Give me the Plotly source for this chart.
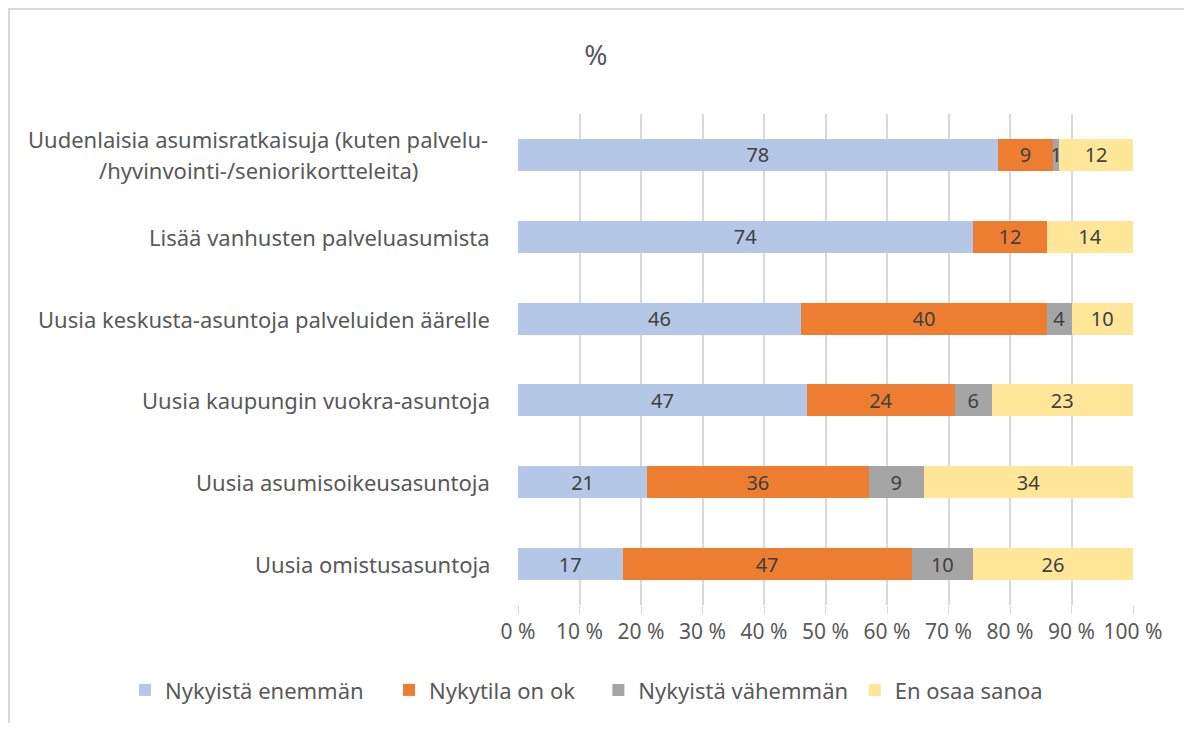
import plotly.graph_objects as go

# kategoriat ylhäältä alas
categories = [
    "Uudenlaisia asumisratkaisuja (kuten palvelu-|/hyvinvointi-/seniorikortteleita)",
    "Lisää vanhusten palveluasumista",
    "Uusia keskusta-asuntoja palveluiden äärelle",
    "Uusia kaupungin vuokra-asuntoja",
    "Uusia asumisoikeusasuntoja",
    "Uusia omistusasuntoja",
]
enemman = [78, 74, 46, 47, 21, 17]
ok = [9, 12, 40, 24, 36, 47]
vahemman = [1, 0, 4, 6, 9, 10]
en_osaa = [12, 14, 10, 23, 34, 26]

series = [
    ("Nykyistä enemmän", enemman, "#b4c7e7"),
    ("Nykytila on ok", ok, "#ed7d31"),
    ("Nykyistä vähemmän", vahemman, "#a5a5a5"),
    ("En osaa sanoa", en_osaa, "#ffe699"),
]
tick_vals = list(range(0, 101, 10))
tick_text = [f"{v} %" for v in tick_vals]

font = "Noto Sans"
W, H = 1176, 715  # body-marginaali 8px
legend_x = [0.0995, 0.324, 0.502, 0.720]

fig = go.Figure()
for i, (name, vals, col) in enumerate(series):
    fig.add_trace(go.Bar(
        y=categories, x=vals, name=name, orientation="h",
        marker=dict(color=col, line=dict(width=0)),
        text=[str(v) if v else "" for v in vals],
        textposition="inside", insidetextanchor="middle", textangle=0,
        textfont=dict(color="#404040", size=20, family=font),
        constraintext="none",
        legend="legend" if i == 0 else f"legend{i + 1}",
    ))

# kategorianimet annotaatioina (keskitetyt rivit)
for c in categories:
    lines = c.split("|")
    if len(lines) == 1:
        fig.add_annotation(x=0, y=c, xref="paper", yref="y", text=c,
                           showarrow=False, xanchor="right", xshift=-26,
                           font=dict(size=22, color="#595959", family=font))
    else:
        fig.add_annotation(x=0, y=c, xref="paper", yref="y", text=lines[0],
                           showarrow=False, xanchor="center", xshift=-260, yshift=16,
                           font=dict(size=22, color="#595959", family=font))
        fig.add_annotation(x=0, y=c, xref="paper", yref="y", text=lines[1],
                           showarrow=False, xanchor="center", xshift=-260, yshift=-15,
                           font=dict(size=22, color="#595959", family=font))

# kaavion reunus
fig.add_shape(type="rect", xref="paper", yref="paper",
              x0=-0.8276, x1=1.3, y0=-0.5, y1=1.2138,
              line=dict(color="#d9d9d9", width=2), layer="below")

leg = {}
for i, lx in enumerate(legend_x):
    key = "legend" if i == 0 else f"legend{i + 1}"
    leg[key] = dict(orientation="h", x=lx, xref="container", xanchor="left",
                    y=0.046, yref="container", yanchor="middle",
                    font=dict(size=22, color="#595959", family=font),
                    itemwidth=30, bgcolor="rgba(0,0,0,0)")

fig.update_layout(
    barmode="stack", bargap=0.61,
    width=W, height=H,
    margin=dict(l=510, r=51, t=106, b=118),
    paper_bgcolor="white", plot_bgcolor="white",
    title=dict(text="%", x=0.5, xref="container", y=0.934, yanchor="middle",
               font=dict(size=28, color="#595959", family=font)),
    font=dict(family=font, color="#595959", size=22),
    uniformtext=dict(minsize=20, mode="show"),
    showlegend=True,
    xaxis=dict(range=[0, 100], tickvals=tick_vals, ticktext=tick_text,
               showgrid=True, gridcolor="#d9d9d9", gridwidth=1.5, zeroline=False,
               ticks="outside", ticklen=8, tickcolor="#d9d9d9",
               tickfont=dict(size=21, color="#595959"), fixedrange=True),
    yaxis=dict(autorange="reversed", showticklabels=False, showgrid=False,
               zeroline=False, fixedrange=True),
    **leg,
)

fig.write_html("out.html")
